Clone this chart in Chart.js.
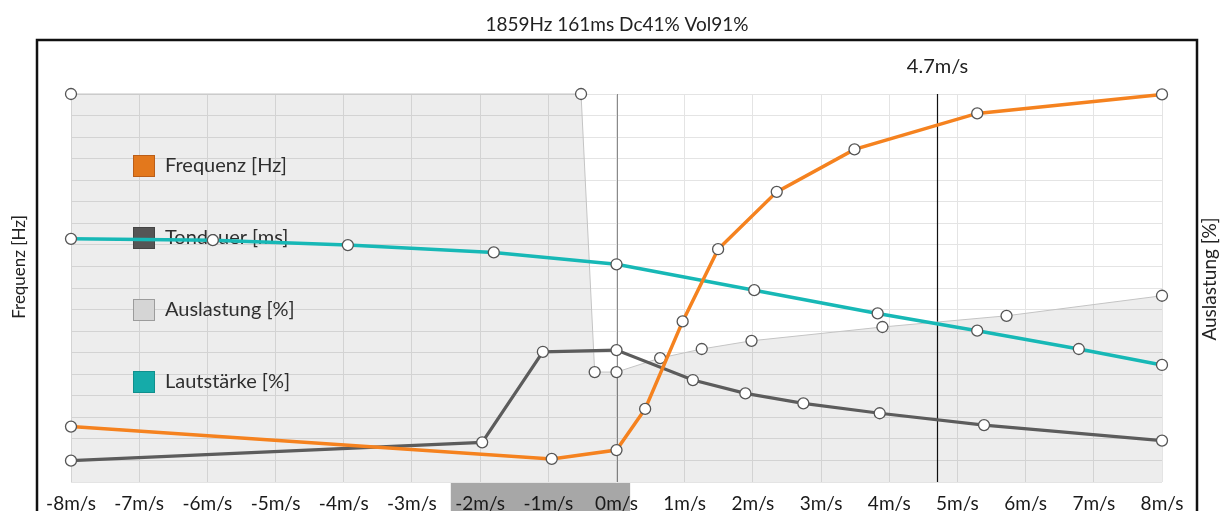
<!DOCTYPE html>
<html>
<head>
<meta charset="utf-8">
<script src="https://cdn.jsdelivr.net/npm/chart.js@4.4.0/dist/chart.umd.min.js"></script>
<style>
  html, body { margin: 0; padding: 0; background: #fff; overflow: hidden; }
</style>
</head>
<body>
<canvas id="chart" width="1220" height="511"></canvas>
<script>
// speeds in m/s, values in grid units (0..18)
const freqX = [-8, -0.95, 0, 0.42, 0.97, 1.49, 2.35, 3.49, 5.29, 8];
const freqY = [2.57, 1.07, 1.48, 3.39, 7.45, 10.8, 13.46, 15.43, 17.1, 17.98];

const durX = [-8, -1.97, -1.08, 0, 1.12, 1.89, 2.74, 3.86, 5.39, 8];
const durY = [0.99, 1.84, 6.04, 6.12, 4.73, 4.11, 3.65, 3.19, 2.64, 1.92];

const loadX = [-8, -0.52, -0.32, 0, 0.64, 1.25, 1.98, 3.9, 5.72, 8];
const loadY = [18, 18, 5.1, 5.1, 5.75, 6.17, 6.55, 7.19, 7.71, 8.64];

const volX = [-8, -5.92, -3.94, -1.8, 0, 2.02, 3.83, 5.29, 6.78, 8];
const volY = [11.28, 11.22, 10.99, 10.65, 10.1, 8.9, 7.82, 7.02, 6.17, 5.43];

const seriesNames = ['Frequenz [Hz]', 'Tondauer [ms]', 'Auslastung [%]', 'Lautstärke [%]'];
const titleText = '1859Hz 161ms Dc41% Vol91%';
const currentSpeed = 4.7;
const zeroSpeed = 0;
const highlightRange = [-2.43, 0.2];
const xMin = -8, xMax = 8, yMax = 18;

const ORANGE = '#f5821f';
const DARK = '#5c5c5c';
const TEAL = '#17b8b6';
const FONT = 'Lato, "Open Sans", sans-serif';

function toPoints(xs, ys) {
  return xs.map((x, i) => ({ x: x, y: ys[i] }));
}

const pointStyle = {
  pointRadius: 5.5,
  pointHoverRadius: 5.5,
  pointBackgroundColor: '#ffffff',
  pointBorderColor: '#555555',
  pointBorderWidth: 1.3,
  tension: 0,
  clip: false
};

const decor = {
  id: 'decor',
  beforeDraw(chart) {
    const { ctx } = chart;
    const x = chart.scales.x;
    const a = x.getPixelForValue(highlightRange[0]);
    const b = x.getPixelForValue(highlightRange[1]);
    ctx.save();
    ctx.fillStyle = '#a7a7a7';
    ctx.fillRect(a, x.top + 1, b - a, chart.height - x.top);
    ctx.restore();
  },
  beforeDatasetsDraw(chart) {
    const { ctx, chartArea } = chart;
    const x = chart.scales.x;
    ctx.save();

    // zero line
    let px = Math.round(x.getPixelForValue(zeroSpeed)) + 0.5;
    ctx.strokeStyle = '#8a8a8a';
    ctx.lineWidth = 1;
    ctx.beginPath();
    ctx.moveTo(px, chartArea.top);
    ctx.lineTo(px, chartArea.bottom);
    ctx.stroke();

    // current speed line
    px = Math.round(x.getPixelForValue(currentSpeed)) + 0.5;
    ctx.strokeStyle = '#111111';
    ctx.lineWidth = 1.2;
    ctx.beginPath();
    ctx.moveTo(px, chartArea.top);
    ctx.lineTo(px, chartArea.bottom);
    ctx.stroke();
    ctx.fillStyle = '#222';
    ctx.font = '20px ' + FONT;
    ctx.textAlign = 'center';
    ctx.textBaseline = 'middle';
    ctx.fillText(currentSpeed + 'm/s', px, chartArea.top - 27);

    // legend
    const colors = [ORANGE, DARK, '#e6e6e6', TEAL];
    const borders = ['#c9661a', '#4a4a4a', '#a8a8a8', '#129a98'];
    ctx.font = '20px ' + FONT;
    ctx.textAlign = 'left';
    seriesNames.forEach((name, i) => {
      const cy = chartArea.top + 72 + i * 72;
      ctx.fillStyle = colors[i];
      ctx.fillRect(133, cy - 11, 22, 22);
      ctx.strokeStyle = borders[i];
      ctx.lineWidth = 1;
      ctx.strokeRect(133.5, cy - 10.5, 21, 21);
      ctx.fillStyle = '#333';
      ctx.fillText(name, 165, cy);
    });
    ctx.restore();
  },
  afterDraw(chart) {
    const { ctx } = chart;
    ctx.save();
    // frame
    ctx.strokeStyle = '#111';
    ctx.lineWidth = 2.5;
    ctx.beginPath();
    ctx.moveTo(37, chart.height + 2);
    ctx.lineTo(37, 40);
    ctx.lineTo(1197, 40);
    ctx.lineTo(1197, chart.height + 2);
    ctx.stroke();

    ctx.fillStyle = '#222';
    ctx.textAlign = 'center';
    ctx.textBaseline = 'middle';
    ctx.font = '19px ' + FONT;
    ctx.fillText(titleText, 617, 25);

    ctx.font = '17px ' + FONT;
    ctx.translate(20, 267);
    ctx.rotate(-Math.PI / 2);
    ctx.fillText('Frequenz [Hz]', 0, 0);
    ctx.restore();

    ctx.save();
    ctx.fillStyle = '#222';
    ctx.textAlign = 'center';
    ctx.textBaseline = 'middle';
    ctx.font = '19px ' + FONT;
    ctx.translate(1210, 279);
    ctx.rotate(-Math.PI / 2);
    ctx.fillText('Auslastung [%]', 0, 0);
    ctx.restore();
  }
};

new Chart(document.getElementById('chart'), {
  type: 'line',
  data: {
    datasets: [
      Object.assign({
        label: seriesNames[0],
        data: toPoints(freqX, freqY),
        borderColor: ORANGE,
        borderWidth: 3.5,
        fill: false,
        order: 0
      }, pointStyle),
      Object.assign({
        label: seriesNames[3],
        data: toPoints(volX, volY),
        borderColor: TEAL,
        borderWidth: 3.5,
        fill: false,
        order: 1
      }, pointStyle),
      Object.assign({
        label: seriesNames[1],
        data: toPoints(durX, durY),
        borderColor: DARK,
        borderWidth: 3.2,
        fill: false,
        order: 2
      }, pointStyle),
      Object.assign({
        label: seriesNames[2],
        data: toPoints(loadX, loadY),
        borderColor: '#c4c4c4',
        borderWidth: 1,
        backgroundColor: 'rgba(0,0,0,0.07)',
        fill: 'start',
        order: 3
      }, pointStyle)
    ]
  },
  options: {
    responsive: false,
    animation: false,
    layout: { padding: { left: 71, right: 58, top: 94, bottom: 0 } },
    plugins: {
      legend: { display: false },
      tooltip: { enabled: false },
      title: { display: false }
    },
    scales: {
      x: {
        type: 'linear',
        min: xMin,
        max: xMax,
        afterFit(scale) { scale.height = 29; },
        border: { display: false },
        grid: { color: '#e4e4e4', drawTicks: false },
        ticks: {
          stepSize: 1,
          padding: 10,
          color: '#1a1a1a',
          font: { family: FONT, size: 19 },
          callback: v => v + 'm/s'
        }
      },
      y: {
        min: 0,
        max: yMax,
        afterFit(scale) { scale.width = 0; },
        border: { display: false },
        grid: { color: '#e4e4e4', drawTicks: false },
        ticks: { display: false, stepSize: 1 }
      }
    }
  },
  plugins: [decor]
});
</script>
</body>
</html>
